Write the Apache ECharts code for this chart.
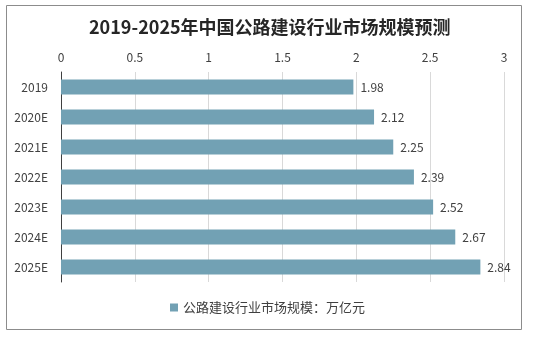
<!DOCTYPE html>
<html><head><meta charset="utf-8">
<script src="https://cdn.jsdelivr.net/npm/echarts@6/dist/echarts.min.js"></script>
<style>html,body{margin:0;padding:0;background:#fff}#c{width:535px;height:339px}</style>
</head><body><div id="c"></div>
<script>
const title = '2019-2025年中国公路建设行业市场规模预测';
const categories = ['2019','2020E','2021E','2022E','2023E','2024E','2025E'];
const values = [1.98, 2.12, 2.25, 2.39, 2.52, 2.67, 2.84];
const seriesName = '公路建设行业市场规模：万亿元';
const xTicks = [0, 0.5, 1, 1.5, 2, 2.5, 3];

const chart = echarts.init(document.getElementById('c'), null, {renderer:'canvas'});
const font = '"Noto Sans CJK SC", "Noto Sans", sans-serif';
chart.setOption({
  animation:false,
  textStyle:{fontFamily:font},
  title:{text:title,left:84,top:13,textStyle:{fontSize:18,fontWeight:'bold',color:'#262626',fontFamily:font}},
  graphic:[{type:'rect',shape:{x:6.5,y:5.5,width:515,height:324},style:{fill:'none',stroke:'#8c8c8c',lineWidth:1},silent:true}],
  legend:{bottom:20,left:'center',itemWidth:8,itemHeight:8,itemGap:6,icon:'rect',
    textStyle:{fontSize:13,color:'#404040',fontFamily:font},data:[seriesName]},
  grid:{left:61,right:31,top:72,bottom:57,containLabel:false},
  xAxis:{type:'value',position:'top',min:xTicks[0],max:xTicks[xTicks.length-1],interval:0.5,
    axisLine:{show:false},axisTick:{show:false},
    axisLabel:{fontSize:12,color:'#404040',margin:9},
    splitLine:{lineStyle:{color:'#d9d9d9',width:1}}},
  yAxis:{type:'category',inverse:true,data:categories,
    axisLine:{show:true,lineStyle:{color:'#404040',width:1}},axisTick:{show:false},
    axisLabel:{fontSize:12,color:'#404040',margin:13}},
  series:[{name:seriesName,type:'bar',data:values,barWidth:15,
    itemStyle:{color:'#72a1b4'},
    label:{show:true,position:'right',distance:7,fontSize:12,color:'#404040'}}]
});
</script></body></html>
